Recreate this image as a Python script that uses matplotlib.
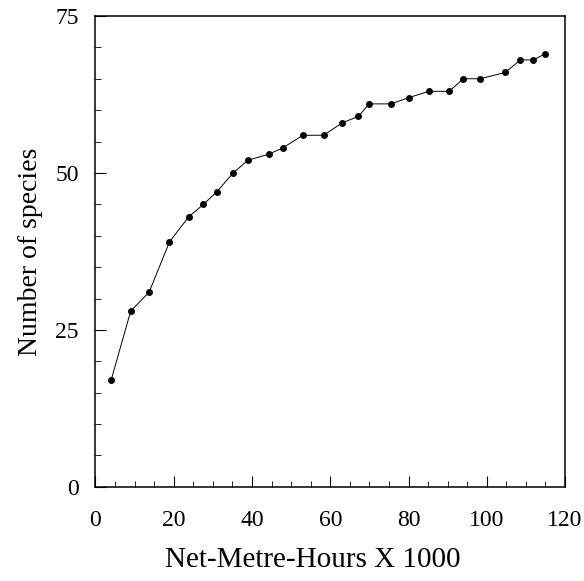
# species accumulation curve vs sampling effort
import matplotlib.pyplot as plt
from matplotlib.ticker import MultipleLocator

# effort (net-metre-hours x 1000) and cumulative species count
effort = [4, 9, 13.7, 18.9, 23.8, 27.6, 31, 35.2, 38.9, 44.3, 47.9, 53, 58.3,
          63.1, 67.2, 69.9, 75.5, 80.1, 85.2, 90.4, 94, 98.3, 104.7, 108.6, 111.9, 115]
species = [17, 28, 31, 39, 43, 45, 47, 50, 52, 53, 54, 56, 56,
           58, 59, 61, 61, 62, 63, 63, 65, 65, 66, 68, 68, 69]

x_ticks = [0, 20, 40, 60, 80, 100, 120]
y_ticks = [0, 25, 50, 75]

plt.rcParams["font.family"] = ["Liberation Serif", "DejaVu Serif"]

fig = plt.figure(figsize=(5.84, 5.81), dpi=100)
ax = fig.add_axes([0.1635, 0.162, 0.804, 0.8105])

ax.plot(effort, species, color="black", linewidth=0.7,
        marker="o", markersize=5, markerfacecolor="black", markeredgewidth=0)

ax.set_xlim(0, 120)
ax.set_ylim(0, 75)
ax.set_xticks(x_ticks)
ax.set_yticks(y_ticks)
ax.xaxis.set_minor_locator(MultipleLocator(5))
ax.yaxis.set_minor_locator(MultipleLocator(5))

ax.tick_params(which="major", direction="in", length=8, width=0.8, labelsize=17)
ax.tick_params(axis="x", which="major", pad=17)
ax.tick_params(axis="y", which="major", pad=12)
ax.tick_params(which="minor", direction="in", length=4, width=0.6)

for side in ax.spines.values():
    side.set_linewidth(1.1)

ax.set_xlabel("Net-Metre-Hours X 1000", fontsize=21, labelpad=11)
ax.xaxis.label.set_x(0.463)  # label sits a little left of centre in the original
ax.set_ylabel("Number of species", fontsize=20, labelpad=9)

fig.savefig("out.png", dpi=100)
